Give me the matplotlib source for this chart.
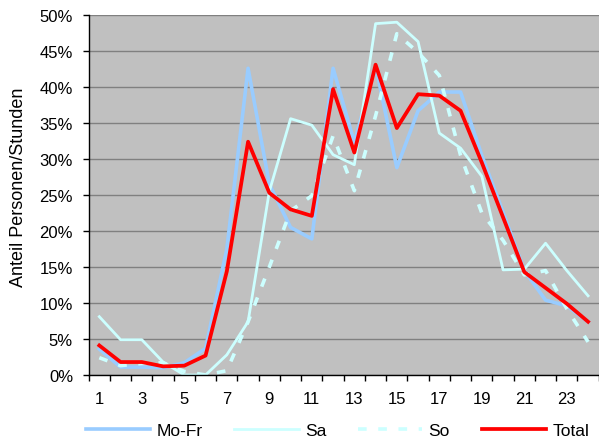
import matplotlib
matplotlib.use("Agg")
import matplotlib.pyplot as plt
from matplotlib.ticker import FuncFormatter

plt.rcParams['font.family'] = ['Liberation Sans', 'DejaVu Sans']

# === Daten (Anteil in %) ===
hours = list(range(1, 25))
mo_fr = [3.6, 1.1, 1.1, 1.0, 1.7, 3.7, 17.5, 42.6, 26.5, 20.5, 18.9, 42.6,
         32.3, 43.0, 28.8, 36.7, 39.3, 39.3, 30.5, 22.6, 14.5, 10.4, 9.6, 7.4]
sa = [8.1, 4.9, 4.9, 1.8, 0.0, 0.0, 2.8, 7.4, 25.5, 35.6, 34.7, 30.6,
      29.2, 48.8, 49.0, 46.3, 33.6, 31.5, 27.6, 14.6, 14.7, 18.3, 14.5, 11.0]
so = [2.4, 1.3, 1.6, 1.7, 0.5, 0.0, 0.6, 7.4, 15.0, 22.8, 24.9, 33.2,
      25.6, 36.0, 47.4, 44.8, 41.6, 30.5, 22.5, 18.7, 13.9, 14.5, 9.2, 4.6]
total = [4.1, 1.8, 1.8, 1.2, 1.3, 2.7, 14.4, 32.4, 25.3, 23.0, 22.1, 39.7,
         30.9, 43.1, 34.3, 39.0, 38.8, 36.7, 29.5, 21.9, 14.3, 12.1, 9.9, 7.4]

fig = plt.figure(figsize=(5.99, 4.39), dpi=100)
ax = fig.add_axes([88.7 / 599, 63 / 439, 510 / 599, 360 / 439])
ax.set_facecolor("#C0C0C0")

x = list(range(len(hours)))
ax.plot(x, mo_fr, color="#99CCFF", lw=2.6, label="Mo-Fr")
ax.plot(x, sa, color="#CCFFFF", lw=2.0, label="Sa")
ax.plot(x, so, color="#CCFFFF", lw=2.6, dashes=(2.4, 3.2), label="So")
ax.plot(x, total, color="#FF0000", lw=2.7, label="Total")

# Achsen
ax.set_xlim(-0.5, len(hours) - 0.5)
ax.set_ylim(0, 50)
ax.set_yticks(range(0, 51, 5))
ax.yaxis.set_major_formatter(FuncFormatter(lambda v, p: f"{int(v)}%"))
ax.grid(axis="y", color="#808080", lw=1.0)
ax.set_axisbelow(True)

ax.set_xticks([i for i in x if hours[i] % 2 == 1])
ax.set_xticklabels([str(h) for h in hours if h % 2 == 1])
ax.set_xticks([i - 0.5 for i in range(len(hours) + 1)], minor=True)
ax.tick_params(axis="x", which="major", length=0, pad=11.5, labelsize=12)
ax.tick_params(axis="x", which="minor", length=4.3, width=1, direction="out")
ax.tick_params(axis="y", length=4.3, width=1, pad=7, labelsize=12)

for s in ["top", "right"]:
    ax.spines[s].set_visible(False)
for s in ["left", "bottom"]:
    ax.spines[s].set_color("black")
    ax.spines[s].set_linewidth(1.0)

fig.text(19 / 599, 1 - 187 / 439, "Anteil Personen/Stunden", rotation=90,
         ha="center", va="center", fontsize=13)

fig.legend(loc="center", bbox_to_anchor=(0.5635, 0.018), ncol=4, frameon=False,
           fontsize=12.5, handlelength=3.7, handletextpad=0.35,
           columnspacing=1.85, borderpad=0, borderaxespad=0)

fig.savefig("out.png", dpi=100)
